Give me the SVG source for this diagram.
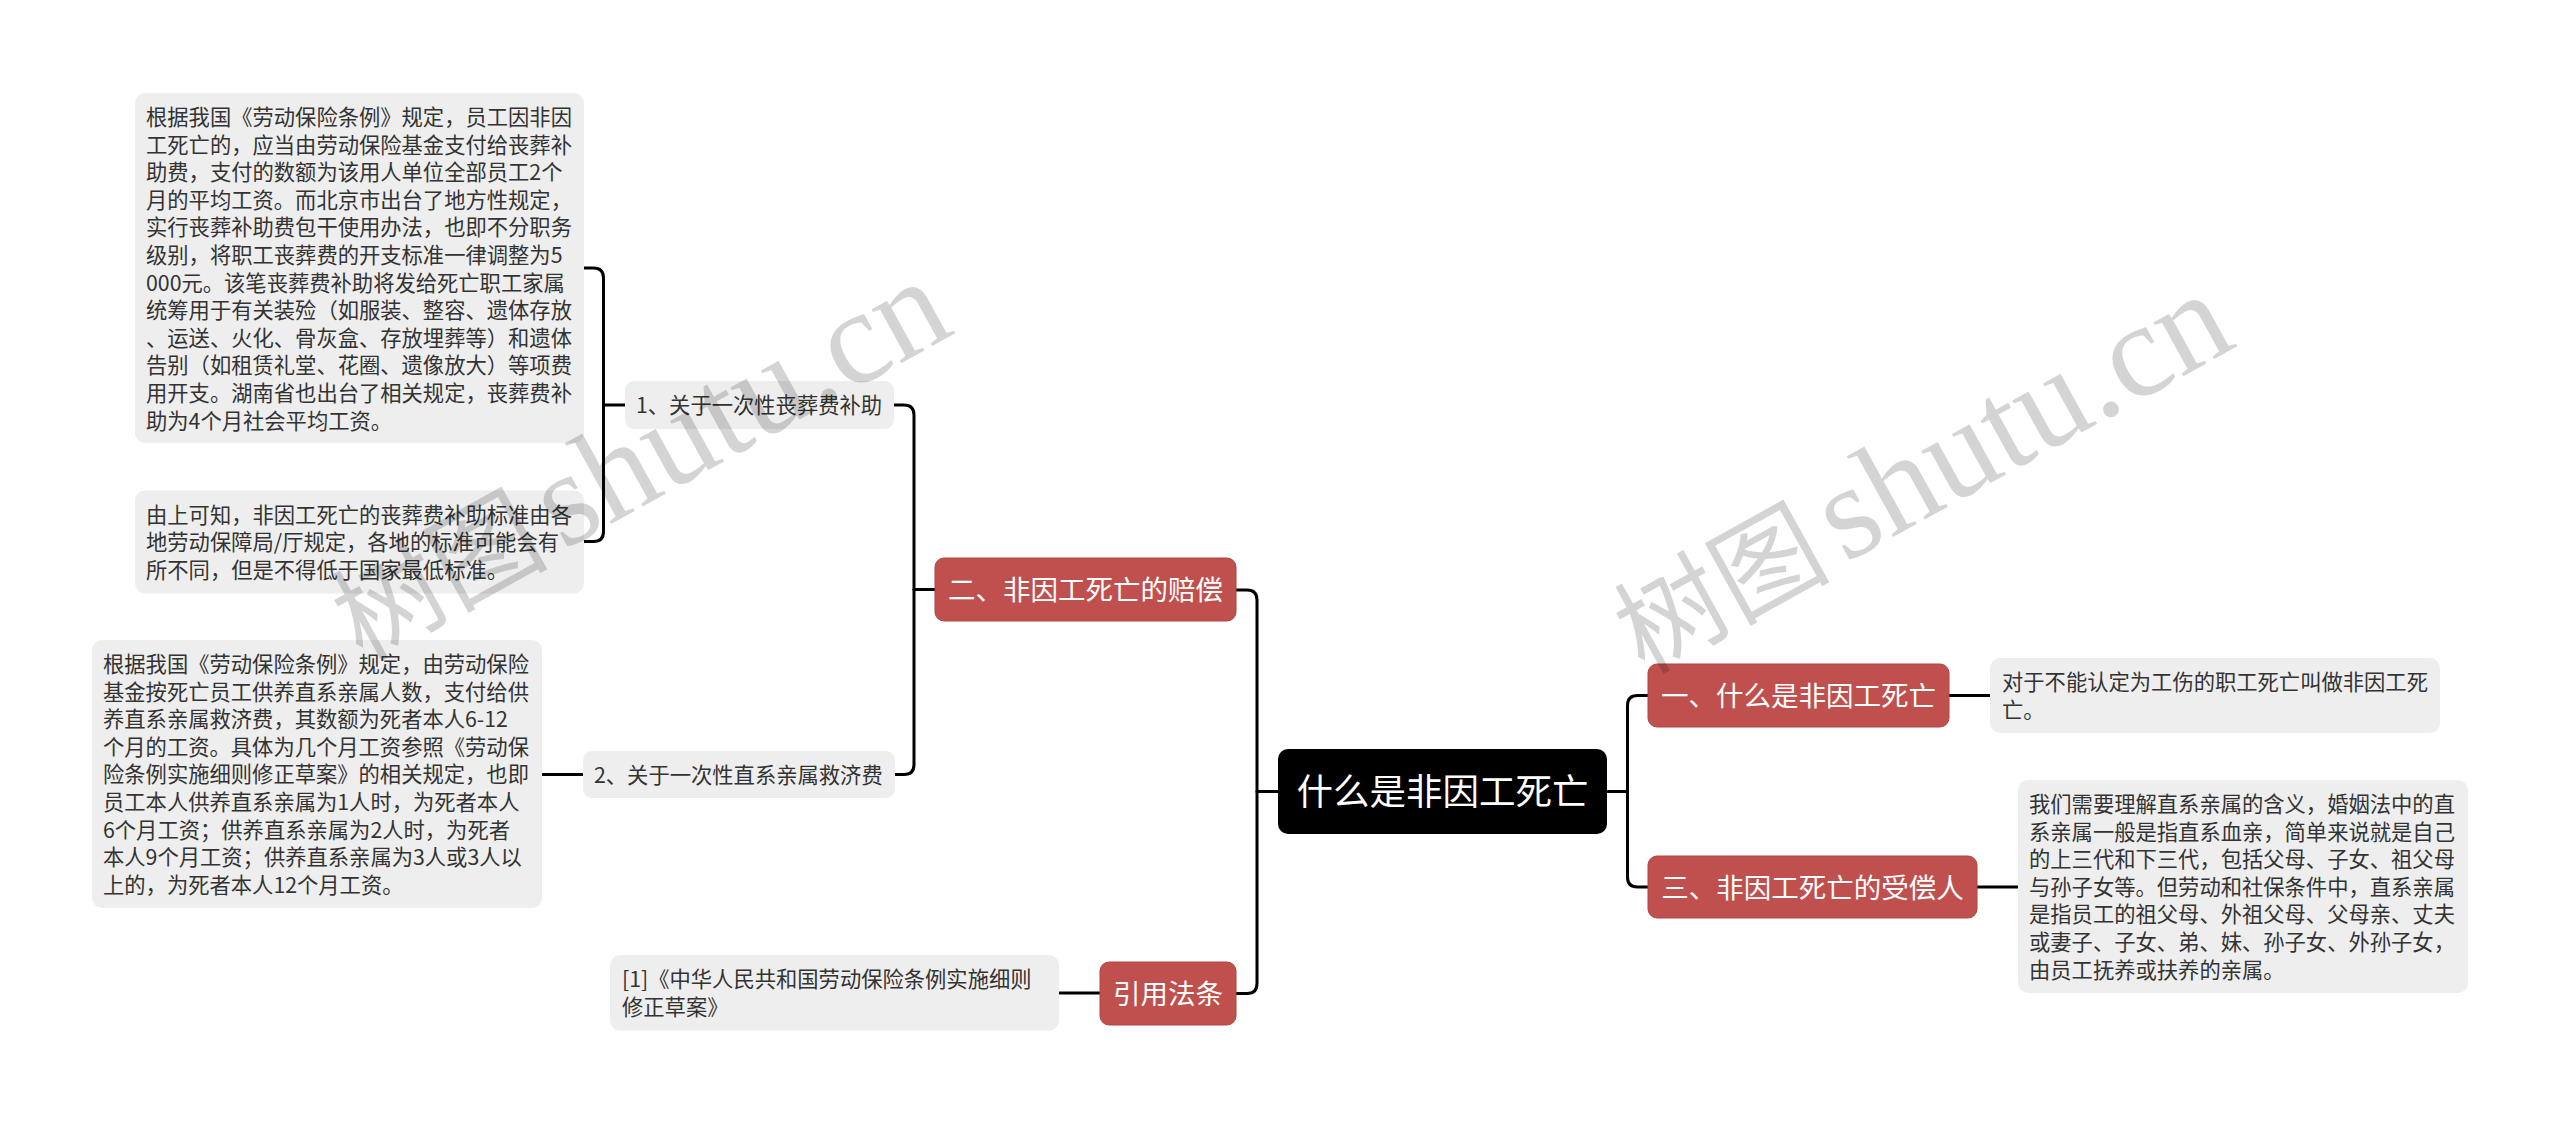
<svg xmlns="http://www.w3.org/2000/svg" width="2560" height="1124" viewBox="0 0 2560 1124">
<style>
.bg{fill:#ffffff}
.leaf{fill:#eeeeee}
.red{fill:#c0504d;stroke:#b04542;stroke-width:1}
.root{fill:#000000}
.lt{font-family:"Noto Sans CJK SC","Liberation Sans",sans-serif;font-size:21.3px;fill:#333333}
.rt{font-family:"Noto Sans CJK SC","Liberation Sans",sans-serif;font-size:27.5px;fill:#ffffff;text-anchor:middle}
.roott{font-family:"Noto Sans CJK SC","Liberation Sans",sans-serif;font-size:36.5px;fill:#ffffff;text-anchor:middle}
.conn path{fill:none;stroke:#000000;stroke-width:3;stroke-linecap:round}
.wm{fill:#000000;fill-opacity:0.17}
.wmc{font-family:"Noto Sans CJK SC",serif;font-size:108px}
.wml{font-family:"Liberation Serif",serif;font-size:134px}
</style>
<rect class="bg" x="0" y="0" width="2560" height="1124"/>

<g id="connectors" class="conn">
  <path d="M584,268 H593.5 Q603.5,268 603.5,278 V531.5 Q603.5,541.5 593.5,541.5 H584"/>
  <path d="M603.5,405 H625"/>
  <path d="M542,774.5 H583"/>
  <path d="M894,405 H904 Q914,405 914,415 V764.5 Q914,774.5 904,774.5 H894"/>
  <path d="M914,589.5 H935"/>
  <path d="M1236,590 H1247 Q1257,590 1257,600 V983.5 Q1257,993.5 1247,993.5 H1236"/>
  <path d="M1257,791.5 H1278"/>
  <path d="M1059,993 H1100"/>
  <path d="M1608,791.5 H1627.5"/>
  <path d="M1648,695.5 H1637.5 Q1627.5,695.5 1627.5,705.5 V877 Q1627.5,887 1637.5,887 H1648"/>
  <path d="M1949,695.5 H1990"/>
  <path d="M1977,887 H2018"/>
</g>

<g id="root">
  <rect class="root" x="1278" y="749" width="329" height="85" rx="10"/>
  <text class="roott" x="1442.5" y="805">什么是非因工死亡</text>
</g>

<g id="n-what">
  <rect class="red" x="1648" y="664" width="301" height="63" rx="9"/>
  <text class="rt" x="1798.5" y="706">一、什么是非因工死亡</text>
</g>

<g id="n-what-leaf">
  <rect class="leaf" x="1990" y="658" width="450" height="75" rx="10"/>
  <text class="lt" x="2002" y="690"><tspan x="2002">对于不能认定为工伤的职工死亡叫做非因工死</tspan><tspan x="2002" dy="27.6">亡。</tspan></text>
</g>

<g id="n-recipient">
  <rect class="red" x="1648" y="856" width="329" height="62" rx="9"/>
  <text class="rt" x="1812.5" y="897.5">三、非因工死亡的受偿人</text>
</g>

<g id="n-recipient-leaf">
  <rect class="leaf" x="2018" y="780" width="450" height="213" rx="10"/>
  <text class="lt" x="2029" y="812"><tspan x="2029">我们需要理解直系亲属的含义，婚姻法中的直</tspan><tspan x="2029" dy="27.6">系亲属一般是指直系血亲，简单来说就是自己</tspan><tspan x="2029" dy="27.6">的上三代和下三代，包括父母、子女、祖父母</tspan><tspan x="2029" dy="27.6">与孙子女等。但劳动和社保条件中，直系亲属</tspan><tspan x="2029" dy="27.6">是指员工的祖父母、外祖父母、父母亲、丈夫</tspan><tspan x="2029" dy="27.6">或妻子、子女、弟、妹、孙子女、外孙子女，</tspan><tspan x="2029" dy="27.6">由员工抚养或扶养的亲属。</tspan></text>
</g>

<g id="n-comp">
  <rect class="red" x="935" y="558" width="301" height="63" rx="9"/>
  <text class="rt" x="1085.5" y="600">二、非因工死亡的赔偿</text>
</g>

<g id="n-funeral">
  <rect class="leaf" x="625" y="381" width="269" height="48" rx="9"/>
  <text class="lt" x="636" y="413">1、关于一次性丧葬费补助</text>
</g>

<g id="n-funeral-leaf1">
  <rect class="leaf" x="135" y="93" width="449" height="350" rx="10"/>
  <text class="lt" x="146" y="125"><tspan x="146">根据我国《劳动保险条例》规定，员工因非因</tspan><tspan x="146" dy="27.6">工死亡的，应当由劳动保险基金支付给丧葬补</tspan><tspan x="146" dy="27.6">助费，支付的数额为该用人单位全部员工2个</tspan><tspan x="146" dy="27.6">月的平均工资。而北京市出台了地方性规定，</tspan><tspan x="146" dy="27.6">实行丧葬补助费包干使用办法，也即不分职务</tspan><tspan x="146" dy="27.6">级别，将职工丧葬费的开支标准一律调整为5</tspan><tspan x="146" dy="27.6">000元。该笔丧葬费补助将发给死亡职工家属</tspan><tspan x="146" dy="27.6">统筹用于有关装殓（如服装、整容、遗体存放</tspan><tspan x="146" dy="27.6">、运送、火化、骨灰盒、存放埋葬等）和遗体</tspan><tspan x="146" dy="27.6">告别（如租赁礼堂、花圈、遗像放大）等项费</tspan><tspan x="146" dy="27.6">用开支。湖南省也出台了相关规定，丧葬费补</tspan><tspan x="146" dy="27.6">助为4个月社会平均工资。</tspan></text>
</g>

<g id="n-funeral-leaf2">
  <rect class="leaf" x="135" y="490.5" width="449" height="103" rx="10"/>
  <text class="lt" x="146" y="522.5"><tspan x="146">由上可知，非因工死亡的丧葬费补助标准由各</tspan><tspan x="146" dy="27.6">地劳动保障局/厅规定，各地的标准可能会有</tspan><tspan x="146" dy="27.6">所不同，但是不得低于国家最低标准。</tspan></text>
</g>

<g id="n-relief">
  <rect class="leaf" x="583" y="751" width="312" height="47" rx="9"/>
  <text class="lt" x="594" y="782.5">2、关于一次性直系亲属救济费</text>
</g>

<g id="n-relief-leaf">
  <rect class="leaf" x="92" y="640" width="450" height="268" rx="10"/>
  <text class="lt" x="103" y="672"><tspan x="103">根据我国《劳动保险条例》规定，由劳动保险</tspan><tspan x="103" dy="27.6">基金按死亡员工供养直系亲属人数，支付给供</tspan><tspan x="103" dy="27.6">养直系亲属救济费，其数额为死者本人6-12</tspan><tspan x="103" dy="27.6">个月的工资。具体为几个月工资参照《劳动保</tspan><tspan x="103" dy="27.6">险条例实施细则修正草案》的相关规定，也即</tspan><tspan x="103" dy="27.6">员工本人供养直系亲属为1人时，为死者本人</tspan><tspan x="103" dy="27.6">6个月工资；供养直系亲属为2人时，为死者</tspan><tspan x="103" dy="27.6">本人9个月工资；供养直系亲属为3人或3人以</tspan><tspan x="103" dy="27.6">上的，为死者本人12个月工资。</tspan></text>
</g>

<g id="n-law">
  <rect class="red" x="1100" y="962" width="136" height="63" rx="9"/>
  <text class="rt" x="1168" y="1004">引用法条</text>
</g>

<g id="n-law-leaf">
  <rect class="leaf" x="610" y="955" width="449" height="75.5" rx="10"/>
  <text class="lt" x="622" y="987"><tspan x="622">[1]《中华人民共和国劳动保险条例实施细则</tspan><tspan x="622" dy="27.6">修正草案》</tspan></text>
</g>

<g id="watermarks" class="wm">
  <text transform="translate(362,662) rotate(-29)"><tspan class="wmc">树图</tspan><tspan class="wml" dx="14">shutu.cn</tspan></text>
  <text transform="translate(1644,675) rotate(-29)"><tspan class="wmc">树图</tspan><tspan class="wml" dx="14">shutu.cn</tspan></text>
</g>
</svg>
